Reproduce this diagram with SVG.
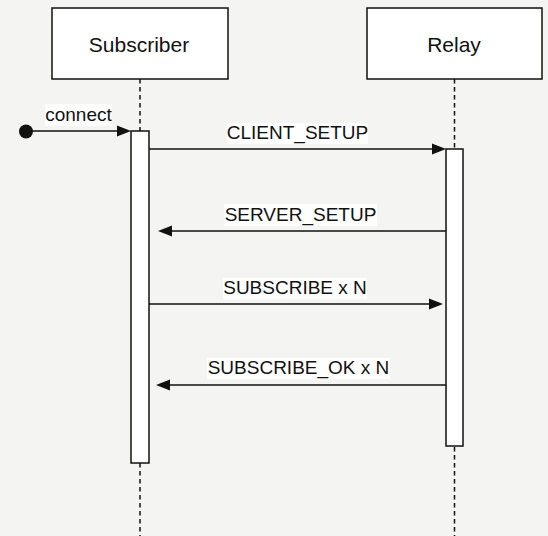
<svg xmlns="http://www.w3.org/2000/svg" width="548" height="536" viewBox="0 0 548 536">
<style>
.bg{fill:#f4f4f2}
.box{fill:#fff;stroke:#111;stroke-width:1.5}
.life{stroke:#111;stroke-width:1.5;stroke-dasharray:4.5 3.5;fill:none}
.msg{stroke:#111;stroke-width:1.3;fill:none}
.head{fill:#111}
.t{font-family:"Liberation Sans",Arial,sans-serif;font-size:19px;fill:#111;text-anchor:middle}
.title{font-size:21px}
.lb{fill:#fff}
</style>
<rect class="bg" x="0" y="0" width="548" height="536"/>
<g id="lifelines">
<line class="life" x1="140" y1="79" x2="140" y2="536"/>
<line class="life" x1="454.5" y1="79" x2="454.5" y2="536"/>
</g>
<g id="subscriber">
<rect class="box" x="52" y="8" width="176" height="71"/>
<text class="t title" x="139" y="52">Subscriber</text>
<rect class="box" x="131" y="131" width="18" height="332"/>
</g>
<g id="relay">
<rect class="box" x="367" y="8" width="175" height="71"/>
<text class="t title" x="454" y="52">Relay</text>
<rect class="box" x="446" y="149" width="17" height="297"/>
</g>
<g id="connectors">
<circle cx="26" cy="131.5" r="7" fill="#111"/>
<line class="msg" x1="26" y1="131" x2="118" y2="131"/>
<path class="head" d="M131,131 L117,125.5 L117,136.5 Z"/>
<rect class="lb" x="45" y="104" width="67" height="22"/>
<text class="t" x="78.5" y="121">connect</text>

<line class="msg" x1="149" y1="149" x2="433" y2="149"/>
<path class="head" d="M446,149 L432,143.5 L432,154.5 Z"/>
<rect class="lb" x="227" y="123" width="141" height="21"/>
<text class="t" x="297.5" y="139">CLIENT_SETUP</text>

<line class="msg" x1="446" y1="231" x2="171" y2="231"/>
<path class="head" d="M158,231 L172,225.5 L172,236.5 Z"/>
<rect class="lb" x="224" y="204" width="153" height="22"/>
<text class="t" x="300.5" y="221">SERVER_SETUP</text>

<line class="msg" x1="149" y1="304" x2="430" y2="304"/>
<path class="head" d="M443,304 L429,298.5 L429,309.5 Z"/>
<rect class="lb" x="223" y="278" width="144" height="21"/>
<text class="t" x="295" y="294">SUBSCRIBE x N</text>

<line class="msg" x1="446" y1="385" x2="169" y2="385"/>
<path class="head" d="M156,385 L170,379.5 L170,390.5 Z"/>
<rect class="lb" x="207" y="358" width="183" height="21"/>
<text class="t" x="298.5" y="374">SUBSCRIBE_OK x N</text>
</g>
</svg>
